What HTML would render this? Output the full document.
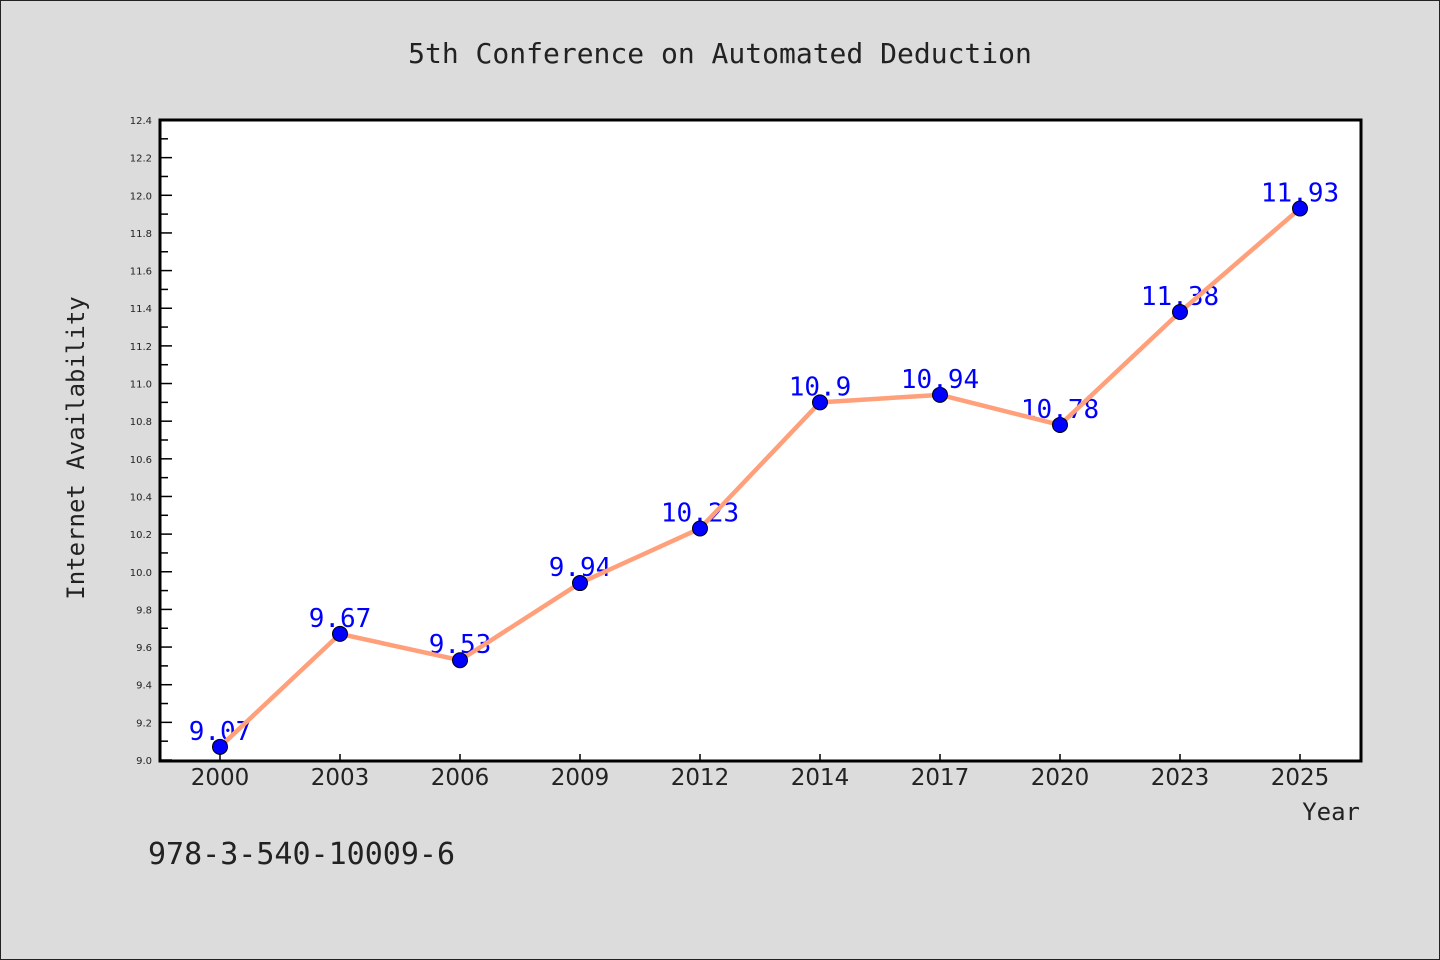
<!DOCTYPE html>
<html><head><meta charset="utf-8"><style>
html,body{margin:0;padding:0;background:#dcdcdc;}
svg{display:block;}
</style></head><body>
<svg width="1440" height="960" xmlns="http://www.w3.org/2000/svg" id="chart">
<rect x="0.5" y="0.5" width="1439" height="959" fill="#dcdcdc" stroke="#222"/>
<text x="720" y="63" text-anchor="middle" font-family="DejaVu Sans Mono, Liberation Mono, monospace" font-size="28" fill="#222">5th Conference on Automated Deduction</text>
<rect x="160" y="120" width="1201" height="641" fill="#fff"/>
<g id="grid"></g>
<g id="series"></g>
<rect x="160" y="120" width="1201" height="641" fill="none" stroke="#000" stroke-width="3"/>
<text transform="translate(84,448) rotate(-90)" text-anchor="middle" font-family="DejaVu Sans Mono, Liberation Mono, monospace" font-size="24" fill="#222">Internet Availability</text>
<text x="1360" y="820" text-anchor="end" font-family="DejaVu Sans Mono, Liberation Mono, monospace" font-size="24" fill="#222">Year</text>
<text x="148" y="864" font-family="DejaVu Sans Mono, Liberation Mono, monospace" font-size="30" fill="#222">978-3-540-10009-6</text>
</svg>
<script>
const categories = ["2000","2003","2006","2009","2012","2014","2017","2020","2023","2025"];
const values = [9.07,9.67,9.53,9.94,10.23,10.9,10.94,10.78,11.38,11.93];
const yTicks = ["9.0","9.2","9.4","9.6","9.8","10.0","10.2","10.4","10.6","10.8","11.0","11.2","11.4","11.6","11.8","12.0","12.2","12.4"];
const labels = ["9.07","9.67","9.53","9.94","10.23","10.9","10.94","10.78","11.38","11.93"];

const NS = "http://www.w3.org/2000/svg";
const L = 160, R = 1360, T = 120, B = 760, yMin = 9.0, yMax = 12.4;
const xs = i => L + (R - L) / categories.length * (i + 0.5);
const ys = v => B - (v - yMin) / (yMax - yMin) * (B - T);
const grid = document.getElementById('grid');
const ser = document.getElementById('series');
function mk(tag, attrs, parent){const e=document.createElementNS(NS,tag);for(const k in attrs)e.setAttribute(k,attrs[k]);parent.appendChild(e);return e;}

yTicks.forEach((t,i)=>{
  const v=parseFloat(t), y=ys(v);
  const tk=mk('line',{x1:L,x2:L+12,y1:y,y2:y,stroke:'#000','stroke-width':1.5},grid);
  
  
  const lb=mk('text',{x:L-8,y:y+4,'text-anchor':'end','font-family':'DejaVu Sans, Liberation Sans, sans-serif','font-size':10,fill:'#222'},grid);
  lb.textContent=t;
  
  
  if(i<yTicks.length-1){
    const ym=ys(v+0.1);
    const mt=mk('line',{x1:L,x2:L+8,y1:ym,y2:ym,stroke:'#000','stroke-width':1.5},grid);
    
    
  }
});
categories.forEach((c,i)=>{
  const x=xs(i);
  const tk=mk('line',{x1:x,x2:x,y1:B,y2:B-6,stroke:'#000','stroke-width':1.5},grid);
  
  
  const lb=mk('text',{x:x,y:B+25,'text-anchor':'middle','font-family':'DejaVu Sans, Liberation Sans, sans-serif','font-size':23,fill:'#222'},grid);
  lb.textContent=c;
  
  
});
values.forEach((v,i)=>{
  const lb=mk('text',{x:xs(i),y:ys(v)-7,'text-anchor':'middle','font-family':'DejaVu Sans Mono, Liberation Mono, monospace','font-size':26,fill:'#0000ff'},ser);
  lb.textContent=labels[i];
  
  
});
const line=mk('polyline',{points:values.map((v,i)=>xs(i)+','+ys(v)).join(' '),fill:'none',stroke:'#ffa07a','stroke-width':4.5,'stroke-linejoin':'round'},ser);


values.forEach((v,i)=>{
  const p=mk('circle',{cx:xs(i),cy:ys(v),r:7.5,fill:'#0000ff',stroke:'#000','stroke-width':1},ser);
  
  
});
</script>
</body></html>
